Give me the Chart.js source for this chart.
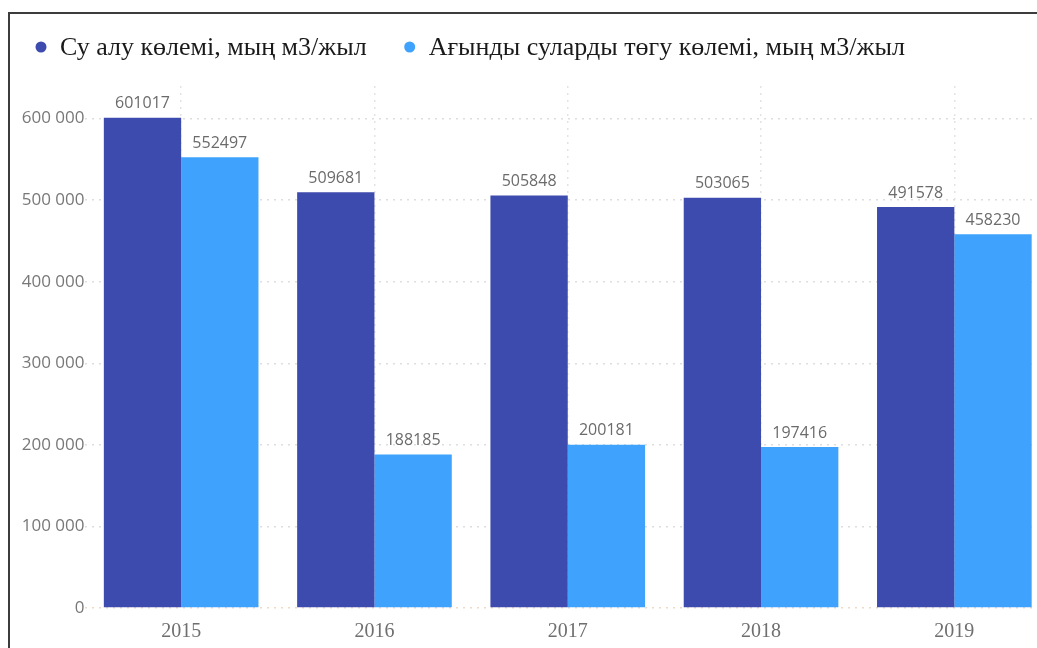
<!DOCTYPE html>
<html>
<head>
<meta charset="utf-8">
<script src="https://cdn.jsdelivr.net/npm/chart.js@4.4.1/dist/chart.umd.min.js"></script>
<style>
  html, body { margin: 0; padding: 0; background: #fff; overflow: hidden; width: 1037px; height: 648px; }
  #wrap { position: absolute; left: 0; top: 0; width: 1051px; height: 666px; }
  #frame { position: absolute; left: 8px; top: 12px; width: 1100px; height: 700px;
           border-left: 2px solid #3c3c3c; border-top: 2px solid #3c3c3c; pointer-events: none; }
</style>
</head>
<body>
<div id="wrap"><canvas id="c" width="1051" height="666"></canvas></div>
<div id="frame"></div>
<script>
const categories = ['2015', '2016', '2017', '2018', '2019'];
const seriesNames = ['Су алу көлемі, мың м3/жыл', 'Ағынды суларды төгу көлемі, мың м3/жыл'];
const waterIntake = [601017, 509681, 505848, 503065, 491578];
const wastewater = [552497, 188185, 200181, 197416, 458230];
const yTicks = [0, 100000, 200000, 300000, 400000, 500000, 600000];
const yMax = 640000;
const colors = ['#3E4BAE', '#3FA2FD'];

const dataLabels = {
  id: 'dataLabels',
  afterDatasetsDraw(chart) {
    const ctx = chart.ctx;
    ctx.save();
    ctx.font = '16px "Open Sans", "Noto Sans", sans-serif';
    ctx.fillStyle = '#6b6b6b';
    ctx.textAlign = 'center';
    ctx.textBaseline = 'bottom';
    chart.data.datasets.forEach((ds, i) => {
      chart.getDatasetMeta(i).data.forEach((bar, j) => {
        ctx.fillText(String(ds.data[j]), bar.x, bar.y - 6);
      });
    });
    ctx.restore();
  }
};

const customLegend = {
  id: 'customLegend',
  afterDraw(chart) {
    const ctx = chart.ctx;
    ctx.save();
    ctx.font = '26px "Liberation Serif", "Times New Roman", serif';
    ctx.textBaseline = 'middle';
    ctx.textAlign = 'left';
    const y = 47;
    let x = 60;
    chart.data.datasets.forEach((ds, i) => {
      ctx.fillStyle = ds.backgroundColor;
      ctx.beginPath();
      ctx.arc(x - 19, y, 5.5, 0, Math.PI * 2);
      ctx.fill();
      ctx.fillStyle = '#1a1a1a';
      ctx.fillText(ds.label, x, y + 1);
      x += ctx.measureText(ds.label).width + 62;
    });
    ctx.restore();
  }
};

new Chart(document.getElementById('c'), {
  type: 'bar',
  data: {
    labels: categories,
    datasets: [
      { label: seriesNames[0], data: waterIntake, backgroundColor: colors[0] },
      { label: seriesNames[1], data: wastewater, backgroundColor: colors[1] }
    ]
  },
  options: {
    responsive: false,
    animation: false,
    events: [],
    layout: { padding: { top: 86, bottom: 10, left: 0, right: 0 } },
    categoryPercentage: 0.8,
    barPercentage: 1.0,
    plugins: { legend: { display: false }, tooltip: { enabled: false } },
    scales: {
      x: {
        grid: { offset: false, drawTicks: false, color: '#e3e3e3', lineWidth: 1.5 },
        border: { display: false, dash: [2, 5] },
        ticks: { padding: 12, color: '#6f6f6f',
                 font: { family: '"Liberation Serif", "Times New Roman", serif', size: 20 } }
      },
      y: {
        min: 0,
        max: yMax,
        afterBuildTicks(scale) { scale.ticks = yTicks.map(v => ({ value: v })); },
        afterFit(scale) { scale.width = 84.5; },
        grid: { drawTicks: false, lineWidth: 1.5,
                color: (c) => (c.tick && c.tick.value === 0) ? '#f2d9c6' : '#dedede' },
        border: { display: false, dash: [2, 5] },
        ticks: {
          padding: 0,
          color: '#787878',
          font: { family: '"Open Sans", "Noto Sans", sans-serif', size: 17 },
          callback: (v) => String(v).replace(/\B(?=(\d{3})+(?!\d))/g, ' ')
        }
      }
    }
  },
  plugins: [dataLabels, customLegend]
});
</script>
</body>
</html>
